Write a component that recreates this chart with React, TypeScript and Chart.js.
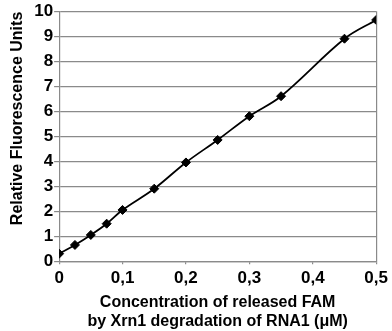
import React, { useEffect, useRef } from "react";
import { Chart, registerables } from "chart.js";

Chart.register(...registerables);

const concentrations = [0, 0.025, 0.05, 0.075, 0.1, 0.15, 0.2, 0.25, 0.3, 0.35, 0.45, 0.5];
const rfu = [0.3, 0.65, 1.05, 1.5, 2.05, 2.9, 3.95, 4.85, 5.8, 6.6, 8.9, 9.65];
const xTitle = ["Concentration of released FAM", "by Xrn1 degradation of RNA1 (\u03BCM)"];
const yTitle = "Relative Fluorescence Units";

const FONT = "'Liberation Sans', Arial, sans-serif";
const GRID = "#8a8a8a";

export default function App() {
  const ref = useRef<HTMLCanvasElement | null>(null);
  useEffect(() => {
    document.body.style.margin = "0";
    const ctx = ref.current!;
    const chart = new Chart(ctx, {
      type: "line",
      data: {
        datasets: [
          {
            data: concentrations.map((x, i) => ({ x, y: rfu[i] })),
            borderColor: "#000",
            backgroundColor: "#000",
            borderWidth: 1.8,
            pointStyle: "rectRot",
            pointRadius: 4.5,
            pointBackgroundColor: "#000",
            pointBorderColor: "#000",
            pointBorderWidth: 1,
            tension: 0.35,
            fill: false,
          },
        ],
      },
      options: {
        animation: false,
        responsive: false,
        maintainAspectRatio: false,
        layout: { padding: { top: 11, right: 13, left: 8, bottom: 0 } },
        plugins: { legend: { display: false }, tooltip: { enabled: false } },
        scales: {
          x: {
            type: "linear",
            min: 0,
            max: 0.5,
            ticks: {
              stepSize: 0.1,
              color: "#000",
              font: { family: FONT, size: 17, weight: "bold" },
              padding: 4,
              maxRotation: 0,
              callback: (v: any) => {
                const n = Math.round(Number(v) * 10) / 10;
                return n === 0 ? "0" : n.toFixed(1).replace(".", ",");
              },
            },
            grid: {
              drawOnChartArea: true,
              color: (c: any) => (c.tick && Math.abs(c.tick.value - 0.5) < 1e-9 ? GRID : "rgba(0,0,0,0)"),
              tickColor: GRID,
              tickLength: 3,
              lineWidth: 1.2,
            },
            border: { display: true, color: GRID, width: 1.2 },
            title: {
              display: true,
              text: xTitle,
              color: "#000",
              font: { family: FONT, size: 16, weight: "bold", lineHeight: 1.2 },
              padding: { top: 0, bottom: 0 },
            },
          },
          y: {
            type: "linear",
            min: 0,
            max: 10,
            ticks: {
              stepSize: 1,
              color: "#000",
              font: { family: FONT, size: 17, weight: "bold" },
              padding: 1,
            },
            grid: { color: GRID, tickColor: GRID, tickLength: 5, lineWidth: 1.2 },
            border: { display: true, color: GRID, width: 1.2 },
            title: {
              display: true,
              text: "        " + yTitle,
              color: "#000",
              font: { family: FONT, size: 16, weight: "bold" },
              padding: { top: 0, bottom: 6 },
            },
          },
        },
      },
    });
    return () => chart.destroy();
  }, []);
  return (
    <div style={{ width: 392, height: 331, background: "#fff" }}>
      <canvas ref={ref} width={392} height={331} />
    </div>
  );
}
